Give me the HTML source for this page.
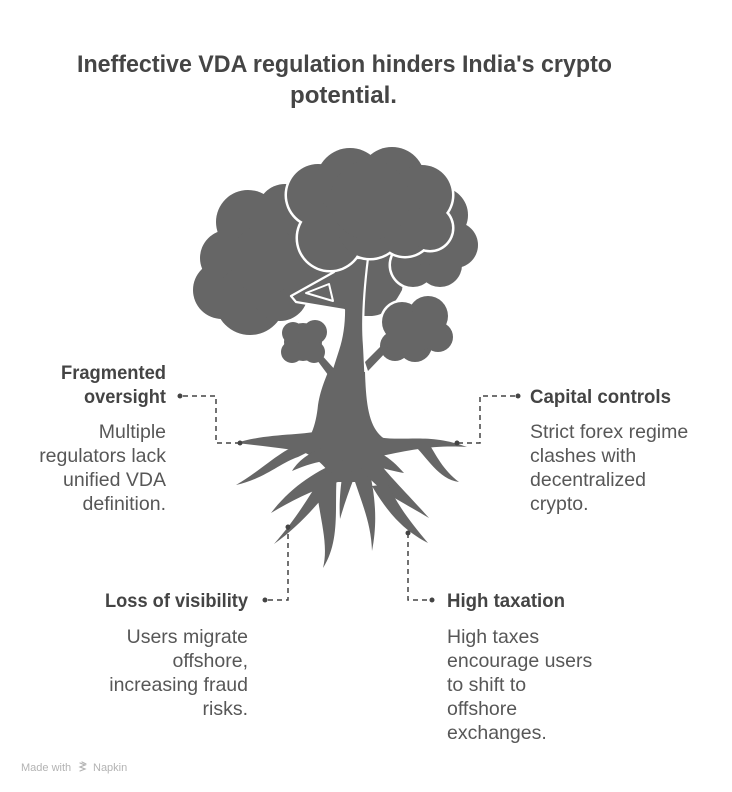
<!DOCTYPE html>
<html>
<head>
<meta charset="utf-8">
<style>
html,body{margin:0;padding:0;background:#fff;width:732px;height:792px;overflow:hidden}
svg{display:block}
</style>
</head>
<body>
<svg width="732" height="792" viewBox="0 0 732 792" xmlns="http://www.w3.org/2000/svg" font-family="'Liberation Sans', Arial, sans-serif">
  <rect width="732" height="792" fill="#fff"/>

  <!-- Title -->
  <text x="77" y="72" font-size="24" font-weight="bold" fill="#454545" textLength="535" lengthAdjust="spacingAndGlyphs">Ineffective VDA regulation hinders India's crypto</text>
  <text x="290" y="103" font-size="24" font-weight="bold" fill="#454545" textLength="107" lengthAdjust="spacingAndGlyphs">potential.</text>

  <!-- ===== TREE ===== -->
  <!-- Left canopy -->
  <g fill="#666">
    <circle cx="248" cy="222" r="32"/>
    <circle cx="285" cy="212" r="28"/>
    <circle cx="228" cy="258" r="28"/>
    <circle cx="222" cy="290" r="29"/>
    <circle cx="250" cy="300" r="35"/>
    <circle cx="280" cy="293" r="28"/>
    <circle cx="300" cy="250" r="35"/>
    <circle cx="265" cy="260" r="35"/>
    <path d="M285 235 L348 235 L348 307 L296 301 L290 296 Z"/>
  </g>
  <!-- back region behind trunk -->
  <path d="M340 245 L408 245 L402 290 C394 305 386 315 372 316 L350 316 Z" fill="#666"/>

  <!-- Trunk with branches (upper, outlined) -->
  <path d="M314 425 C322 400 330 375 338 350 C343 335 344 320 344 310 L296 302 L291 296 L334 272 L345 258 L368 258 C364 290 362 320 364 345 C366 380 366 405 370 425 Z"
        fill="#666" stroke="#fff" stroke-width="2.2" stroke-linejoin="round"/>
  <path d="M306 293 L329 284 L333 301 Z" fill="#666" stroke="#fff" stroke-width="2" stroke-linejoin="round"/>

  <!-- Right canopy (outlined) -->
  <g fill="#fff">
    <circle cx="440" cy="215" r="30.5"/>
    <circle cx="455" cy="245" r="25.5"/>
    <circle cx="440" cy="265" r="24.5"/>
    <circle cx="413" cy="265" r="24.5"/>
    <circle cx="425" cy="240" r="27.5"/>
  </g>
  <g fill="#666">
    <circle cx="440" cy="215" r="28"/>
    <circle cx="455" cy="245" r="23"/>
    <circle cx="440" cy="265" r="22"/>
    <circle cx="413" cy="265" r="22"/>
    <circle cx="425" cy="240" r="25"/>
  </g>

  <!-- Center canopy (outlined) -->
  <g fill="#fff">
    <circle cx="318" cy="195" r="33.5"/>
    <circle cx="350" cy="182" r="36.5"/>
    <circle cx="392" cy="180" r="35.5"/>
    <circle cx="422" cy="195" r="32.5"/>
    <circle cx="330" cy="238" r="34.5"/>
    <circle cx="370" cy="225" r="35.5"/>
    <circle cx="405" cy="228" r="30.5"/>
    <circle cx="430" cy="228" r="24.5"/>
    <circle cx="370" cy="200" r="42.5"/>
  </g>
  <g fill="#666">
    <circle cx="318" cy="195" r="31"/>
    <circle cx="350" cy="182" r="34"/>
    <circle cx="392" cy="180" r="33"/>
    <circle cx="422" cy="195" r="30"/>
    <circle cx="330" cy="238" r="32"/>
    <circle cx="370" cy="225" r="33"/>
    <circle cx="405" cy="228" r="28"/>
    <circle cx="430" cy="228" r="22"/>
    <circle cx="370" cy="200" r="40"/>
  </g>

  <!-- Bushes (outlined) -->
  <g fill="#fff">
    <circle cx="402" cy="322" r="22.5"/>
    <circle cx="428" cy="316" r="22.5"/>
    <circle cx="438" cy="337" r="17.5"/>
    <circle cx="415" cy="345" r="19.5"/>
    <circle cx="395" cy="346" r="17.5"/>
    <circle cx="420" cy="330" r="22.5"/>
  </g>
  <g fill="#666">
    <circle cx="402" cy="322" r="20"/>
    <circle cx="428" cy="316" r="20"/>
    <circle cx="438" cy="337" r="15"/>
    <circle cx="415" cy="345" r="17"/>
    <circle cx="395" cy="346" r="15"/>
    <circle cx="420" cy="330" r="20"/>
    <circle cx="303" cy="342" r="19"/>
    <circle cx="293" cy="333" r="11"/>
    <circle cx="315" cy="332" r="12"/>
    <circle cx="292" cy="352" r="11"/>
    <circle cx="314" cy="352" r="11"/>
  </g>
  <!-- bush branches -->
  <path d="M314 356 L319 352 L337 372 L334 383 Z" fill="#666"/>
  <path d="M384 343 L389 349 L368 371 L365 362 Z" fill="#666"/>

  <!-- Lower trunk + flare + roots -->
  <g fill="#666">
    <path d="M328 372 L365 372 C366 405 369 426 382 437 C388 442 395 445 400 447 C380 452 366 462 358 482 L334 482 C328 468 316 456 298 450 C310 442 316 426 318 405 C320 392 324 382 328 372 Z"/>
    <!-- left horizontal -->
    <path d="M324 430 C300 436 268 433 236 443 C264 446 296 450 326 455 Z"/>
    <!-- down-left from left root -->
    <path d="M306 443 C284 446 268 466 236 485 C264 479 280 463 298 457 L308 452 Z"/>
    <!-- short root -->
    <path d="M326 446 C312 452 300 458 292 471 C306 465 316 462 330 460 Z"/>
    <!-- big left root -->
    <path d="M344 460 C316 470 290 488 271 513 C294 499 318 488 344 480 Z"/>
    <path d="M322 476 C307 500 295 520 274 544 C298 527 315 507 331 488 Z"/>
    <!-- down to 567 -->
    <path d="M316 474 C316 510 330 540 323 568 C341 540 334 505 337 472 Z"/>
    <!-- center thin -->
    <path d="M343 470 C340 490 339 505 340 519 C345 502 350 488 356 473 Z"/>
    <!-- center-right -->
    <path d="M350 466 C360 500 371 520 372 551 C378 520 375 494 368 464 Z"/>
    <!-- right short -->
    <path d="M370 448 C388 456 394 462 404 473 C392 471 384 468 369 465 Z"/>
    <!-- right roots -->
    <path d="M358 463 C374 490 396 498 429 518 C404 490 390 477 377 460 Z"/>
    <path d="M372 486 C389 515 405 531 428 543 C412 524 397 505 388 484 Z"/>
    <!-- right horizontal -->
    <path d="M362 433 C398 446 422 430 467 447 C432 445 410 450 372 458 Z"/>
    <!-- right down -->
    <path d="M412 443 C428 458 438 479 459 482 C443 470 436 455 428 442 Z"/>
  </g>

  <!-- ===== CONNECTORS ===== -->
  <g fill="none" stroke="#444" stroke-width="1.5" stroke-dasharray="5 4">
    <path d="M183 396 L216 396 L216 443 L240 443"/>
    <path d="M515 396 L480 396 L480 443 L457 443"/>
    <path d="M268 600 L288 600 L288 527"/>
    <path d="M408 533 L408 600 L429 600"/>
  </g>
  <g fill="#444">
    <circle cx="180" cy="396" r="2.5"/>
    <circle cx="240" cy="443" r="2.5"/>
    <circle cx="518" cy="396" r="2.5"/>
    <circle cx="457" cy="443" r="2.5"/>
    <circle cx="265" cy="600" r="2.5"/>
    <circle cx="288" cy="527" r="2.5"/>
    <circle cx="408" cy="533" r="2.5"/>
    <circle cx="432" cy="600" r="2.5"/>
  </g>

  <!-- ===== LABELS ===== -->
  <g font-weight="bold" font-size="19" fill="#444">
    <text x="166" y="379" text-anchor="end" textLength="105" lengthAdjust="spacingAndGlyphs">Fragmented</text>
    <text x="166" y="403" text-anchor="end" textLength="82" lengthAdjust="spacingAndGlyphs">oversight</text>
    <text x="530" y="403" textLength="141" lengthAdjust="spacingAndGlyphs">Capital controls</text>
    <text x="248" y="607" text-anchor="end" textLength="143" lengthAdjust="spacingAndGlyphs">Loss of visibility</text>
    <text x="447" y="607" textLength="118" lengthAdjust="spacingAndGlyphs">High taxation</text>
  </g>
  <g font-size="19.5" fill="#575757">
    <text x="166" y="438" text-anchor="end">Multiple</text>
    <text x="166" y="462" text-anchor="end">regulators lack</text>
    <text x="166" y="486" text-anchor="end">unified VDA</text>
    <text x="166" y="510" text-anchor="end">definition.</text>

    <text x="530" y="438">Strict forex regime</text>
    <text x="530" y="462">clashes with</text>
    <text x="530" y="486">decentralized</text>
    <text x="530" y="510">crypto.</text>

    <text x="248" y="643" text-anchor="end">Users migrate</text>
    <text x="248" y="667" text-anchor="end">offshore,</text>
    <text x="248" y="691" text-anchor="end">increasing fraud</text>
    <text x="248" y="715" text-anchor="end">risks.</text>

    <text x="447" y="643">High taxes</text>
    <text x="447" y="667">encourage users</text>
    <text x="447" y="691">to shift to</text>
    <text x="447" y="715">offshore</text>
    <text x="447" y="739">exchanges.</text>
  </g>

  <!-- Footer -->
  <text x="21" y="771" font-size="11" fill="#b3b3b3">Made with</text>
  <g stroke="#b3b3b3" stroke-width="1.2" fill="none" stroke-linecap="round">
    <path d="M80 763 L85 765 L80 767 L85 769 L80 771"/>
    <path d="M82 762 L86 764"/>
  </g>
  <text x="93" y="771" font-size="11" fill="#b3b3b3">Napkin</text>
</svg>
</body>
</html>
